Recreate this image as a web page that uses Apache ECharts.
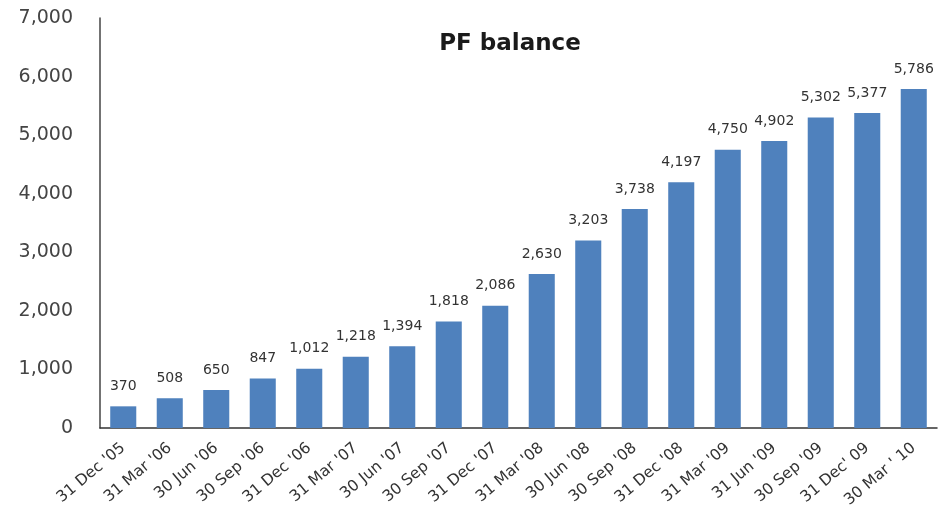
<!DOCTYPE html>
<html><head><meta charset="utf-8">
<script src="https://cdn.jsdelivr.net/npm/echarts@6/dist/echarts.min.js"></script>
<style>html,body{margin:0;padding:0;background:#fff}#c{width:942px;height:519px}</style>
</head><body><div id="c"></div>
<script>
const categories = ["31 Dec '05","31 Mar '06","30 Jun '06","30 Sep '06","31 Dec '06","31 Mar '07","30 Jun '07","30 Sep '07","31 Dec '07","31 Mar '08","30 Jun '08","30 Sep '08","31 Dec '08","31 Mar '09","31 Jun '09","30 Sep '09","31 Dec' 09","30 Mar ' 10"];
const pfBalance = [370,508,650,847,1012,1218,1394,1818,2086,2630,3203,3738,4197,4750,4902,5302,5377,5786];
const yTicks = {min:0, max:7000, interval:1000};
const chart = echarts.init(document.getElementById('c'), null, {renderer:'canvas'});
const fmt = v => v.toLocaleString('en-US');
chart.setOption({
  animation:false,
  title:{text:'PF balance', left:505, top:28, textAlign:'center',
    textStyle:{fontFamily:'DejaVu Sans', fontWeight:'bold', fontSize:23, color:'#1a1a1a'}},
  grid:{left:100, right:5, top:18, bottom:91, containLabel:false},
  xAxis:{type:'category', data:categories,
    axisLine:{lineStyle:{color:'#333', width:1.5}}, axisTick:{show:false},
    axisLabel:{rotate:40, interval:0, fontFamily:'DejaVu Sans', fontSize:15.5, color:'#333', margin:18}},
  yAxis:{type:'value', min:yTicks.min, max:yTicks.max, interval:yTicks.interval,
    axisLine:{show:true, lineStyle:{color:'#444', width:1.5}}, axisTick:{show:false},
    splitLine:{show:false},
    axisLabel:{formatter:fmt, fontFamily:'DejaVu Sans', fontSize:19, color:'#444', margin:27}},
  series:[{type:'bar', data:pfBalance, barWidth:'56%',
    itemStyle:{color:'#4F81BD'},
    label:{show:true, position:'top', distance:13, formatter:p=>fmt(p.value),
      fontFamily:'DejaVu Sans', fontSize:14, color:'#333'}}]
});
</script></body></html>
